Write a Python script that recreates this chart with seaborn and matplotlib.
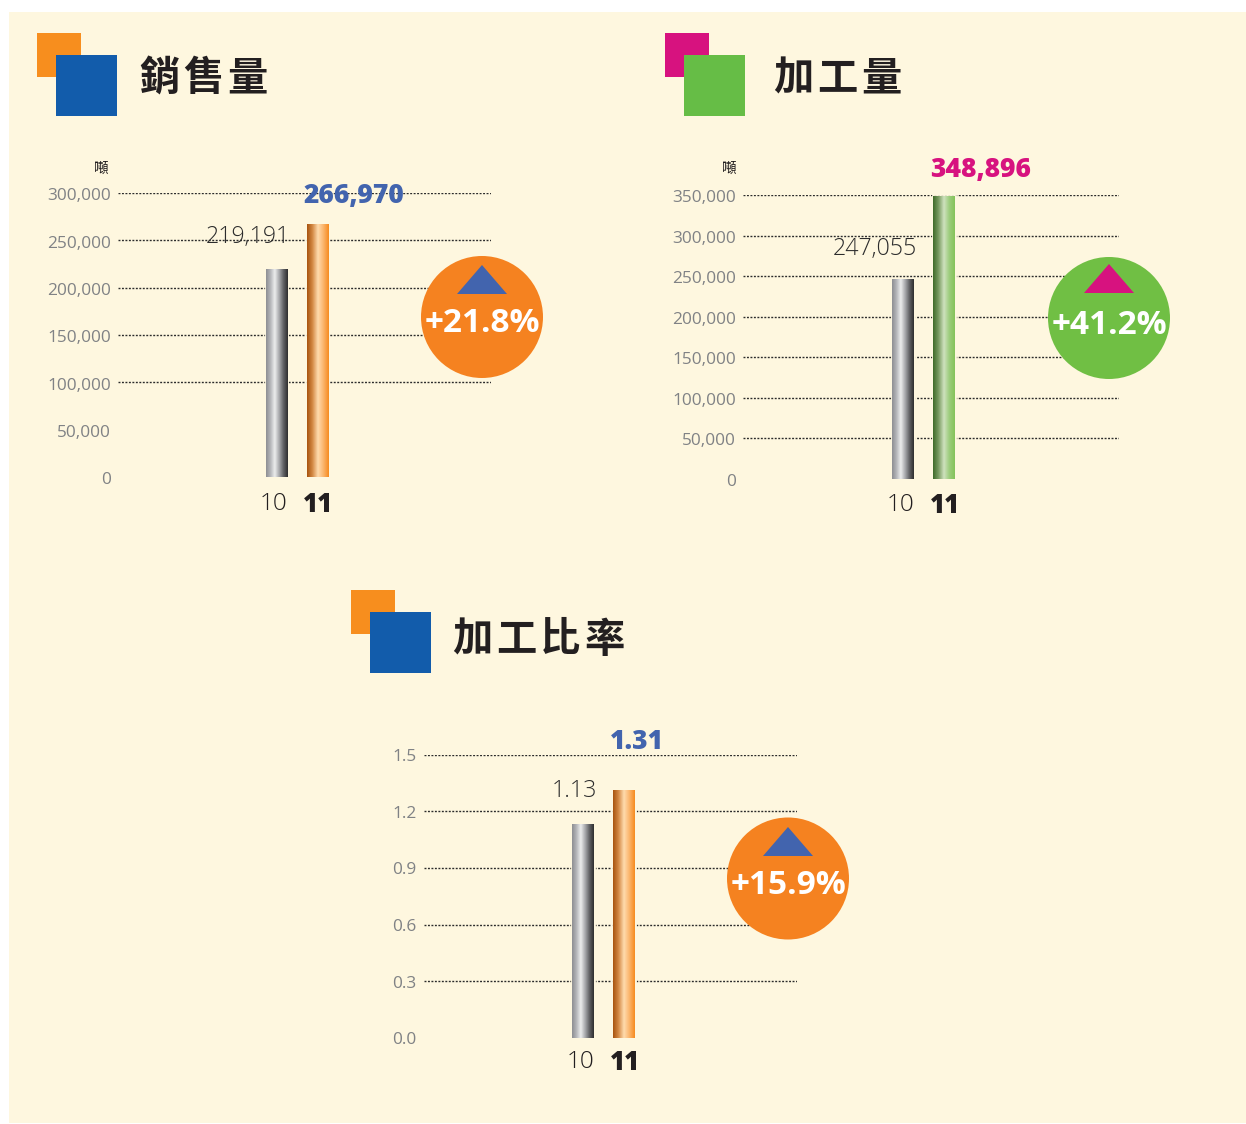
import numpy as np
import pandas as pd
import matplotlib
matplotlib.use("Agg")
import matplotlib.pyplot as plt
import seaborn as sns
from matplotlib.colors import LinearSegmentedColormap
from matplotlib.patches import Circle, Polygon, Rectangle
from matplotlib.transforms import ScaledTranslation

# data
years = ["10", "11"]
sales_values = [219191, 266970]
process_values = [247055, 348896]
ratio_values = [1.13, 1.31]
sales_labels = ["219,191", "266,970"]
process_labels = ["247,055", "348,896"]
ratio_labels = ["1.13", "1.31"]
sales_ticks = [0, 50000, 100000, 150000, 200000, 250000, 300000]
process_ticks = [0, 50000, 100000, 150000, 200000, 250000, 300000, 350000]
ratio_ticks = [0.0, 0.3, 0.6, 0.9, 1.2, 1.5]
sales_grid = [100000, 150000, 200000, 250000, 300000]
process_grid = [50000, 100000, 150000, 200000, 250000, 300000, 350000]
ratio_grid = [0.3, 0.6, 0.9, 1.2, 1.5]

W, H = 1246, 1124
BG = "#fef7df"
ORANGE = "#f78e1e"
BLUE = "#125cab"
PINK = "#d7127f"
GREEN = "#66bd46"
CIRCLE_ORANGE = "#f58220"
CIRCLE_GREEN = "#70bf44"
LABEL_BLUE = "#4264ae"
TICK_GRAY = "#808285"
DARK = "#231f20"

sns.set_theme(style="white")
plt.rcParams["font.family"] = ["Open Sans", "Noto Sans CJK TC", "DejaVu Sans"]

CM_GRAY = LinearSegmentedColormap.from_list("g", ["#8e8f93", "#b5b6ba", "#eceded", "#a9aaad", "#626366", "#2f2f30"])
CM_ORANGE = LinearSegmentedColormap.from_list("o", ["#a8540f", "#d48a45", "#ffdcae", "#fbb56c", "#f68c20"])
CM_GREEN = LinearSegmentedColormap.from_list("v", ["#3f6b2a", "#7a9c62", "#cfe2bf", "#9ccc7c", "#84c35a"])


def px_axes(x0, y0, x1, y1, zorder=1):
    ax = fig.add_axes([x0 / W, 1 - y1 / H, (x1 - x0) / W, (y1 - y0) / H], zorder=zorder)
    ax.patch.set_alpha(0)
    return ax


def draw_chart(box, bar0_px, values, labels, ticks, grid, tick_fmt, cmap, hi_color, offs, label_dy, x_pad):
    x0, y0, x1, y1 = box
    ax = px_axes(x0, y0, x1, y1, zorder=2)
    df = pd.DataFrame({"year": years, "value": values})
    unit = 41.0
    sns.barplot(data=df, x="year", y="value", ax=ax, color=BG, width=21.5 / unit,
                saturation=1, edgecolor=BG, linewidth=2)
    xlim = ((x0 - bar0_px) / unit, (x1 - bar0_px) / unit)
    ylim = (0, ticks[-1])
    for patch, cm in zip(ax.patches, [CM_GRAY, cmap]):
        patch.set_zorder(2)
        im = ax.imshow(np.linspace(0, 1, 64).reshape(1, -1), cmap=cm, aspect="auto", zorder=3,
                       interpolation="bilinear",
                       extent=(patch.get_x(), patch.get_x() + patch.get_width(), 0, patch.get_height()))
        im.set_clip_path(patch)
    ax.hlines(grid, xlim[0], xlim[1], colors="#2b2b2b", linewidth=1.0,
              linestyles=(0, (1.4, 1.1)), zorder=1)
    ax.set_xlim(xlim)
    ax.set_ylim(ylim)
    sns.despine(ax=ax, left=True, bottom=True, right=True, top=True)
    ax.set_xlabel("")
    ax.set_ylabel("")
    ax.set_yticks(ticks)
    ax.set_yticklabels([tick_fmt.format(t) for t in ticks], color=TICK_GRAY, fontsize=12.4)
    ax.tick_params(axis="y", length=0, pad=5.2)
    ax.tick_params(axis="x", length=0, pad=x_pad)
    shift = ScaledTranslation(0, label_dy / 100, fig.dpi_scale_trans)
    for t in ax.get_yticklabels():
        t.set_transform(t.get_transform() + shift)
    ax.set_xticks([0, 1])
    ax.set_xticklabels(years, fontsize=17.5, color=DARK)
    lab10, lab11 = ax.get_xticklabels()
    lab10.set_fontweight("light")
    lab10.set_transform(lab10.get_transform() + ScaledTranslation(-2.5 / 100, 0, fig.dpi_scale_trans))
    lab11.set_fontweight("black")
    lab11.set_fontsize(18.5)
    lab11.set_transform(lab11.get_transform() + ScaledTranslation(1 / 100, 0, fig.dpi_scale_trans))
    # value labels, offset in pixels from the bar top
    for i, (val, lab, (dx, dy)) in enumerate(zip(values, labels, offs)):
        hi = i == 1
        ax.annotate(lab, (i, val), xytext=(dx * 0.72, dy * 0.72), textcoords="offset points",
                    ha="center", va="center", zorder=6,
                    fontsize=19 if hi else 16.7,
                    fontweight="black" if hi else "light",
                    color=hi_color if hi else "#2c2c2c")
    return ax


def heading(text, sq1, sq_top, tx, ty, c1, c2):
    top.add_patch(Rectangle((sq1, sq_top), 44, 44, color=c1, lw=0))
    top.add_patch(Rectangle((sq1 + 19, sq_top + 22), 61, 61, color=c2, lw=0))
    for i, ch in enumerate(text):
        top.text(tx + 20 + i * 44, ty + 4, ch, fontsize=29, fontweight="bold", color=DARK,
                 ha="center", va="center", family=["Noto Sans CJK TC"])


def badge(cx, cy, text, face, tri, tri_top):
    top.add_patch(Circle((cx, cy), 61, color=face, lw=0))
    top.add_patch(Polygon([(cx, tri_top), (cx - 25, tri_top + 29), (cx + 25, tri_top + 29)], color=tri, lw=0))
    top.text(cx, cy + 7, text, color="white", fontsize=24, fontweight="bold", ha="center", va="center")


fig = plt.figure(figsize=(W / 100, H / 100), dpi=100, facecolor="white")

back = px_axes(0, 0, W, H, zorder=0)
back.set_xlim(0, W)
back.set_ylim(H, 0)
back.axis("off")
back.add_patch(Rectangle((9, 12), 1237, 1111, color=BG, lw=0))

draw_chart((118, 193, 491, 477), 276.5, sales_values, sales_labels, sales_ticks, sales_grid,
           "{:,.0f}", CM_ORANGE, LABEL_BLUE, [(-29, 32), (36.5, 28)], -1.5, 11)
draw_chart((743, 195, 1119, 479), 903, process_values, process_labels, process_ticks, process_grid,
           "{:,.0f}", CM_GREEN, PINK, [(-28, 30), (37, 26)], -1, 10.3)
draw_chart((424, 754.5, 797, 1038), 583, ratio_values, ratio_labels, ratio_ticks, ratio_grid,
           "{:.1f}", CM_ORANGE, LABEL_BLUE, [(-8.5, 33), (13, 48)], -0.5, 9)

top = px_axes(0, 0, W, H, zorder=5)
top.set_xlim(0, W)
top.set_ylim(H, 0)
top.axis("off")

heading("銷售量", 37, 33, 139, 75, ORANGE, BLUE)
heading("加工量", 665, 33, 773, 75, PINK, GREEN)
heading("加工比率", 351, 590, 452, 636, ORANGE, BLUE)

badge(482, 317, "+21.8%", CIRCLE_ORANGE, LABEL_BLUE, 265)
badge(1109, 318, "+41.2%", CIRCLE_GREEN, PINK, 264)
badge(788, 878.5, "+15.9%", CIRCLE_ORANGE, LABEL_BLUE, 827)

for ux in [101.5, 729.5]:
    top.text(ux, 169, "噸", fontsize=10.5, color=DARK, ha="center", va="center", family=["Noto Sans CJK TC"])

fig.savefig("out.png", dpi=100, facecolor="white")
